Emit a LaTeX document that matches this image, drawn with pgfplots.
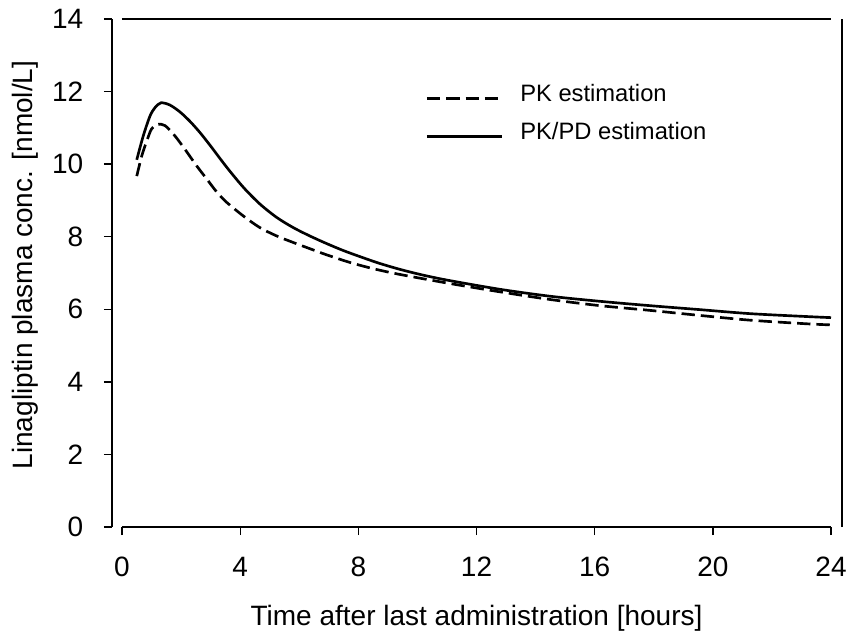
\documentclass[border=0pt]{standalone}
\usepackage{fontspec}
\setmainfont{Liberation Sans}
\usepackage{pgfplots}
\pgfplotsset{compat=1.18}
\begin{document}
\begin{tikzpicture}
\begin{axis}[
 name=ax,
 scale only axis,
 width=539.25pt, height=381pt,
 xmin=-0.3385, xmax=24, ymin=0, ymax=14,
 axis y line*=left, axis x line*=bottom,
 x axis line style={draw=none},
 y axis line style={line width=1pt},
 clip=false,
 xtick={0,4,...,24}, ytick={0,2,...,14},
 tick align=outside, major tick length=6pt,
 tick style={line width=1pt, black},
 minor tick num=0,
 /pgf/number format/assume math mode=true,
 ticklabel style={font=\fontsize{21}{25}\selectfont},
 xticklabel style={yshift=-13pt},
 yticklabel style={xshift=-12pt},
 xlabel={Time after last administration [hours]},
 ylabel={Linagliptin plasma conc. [nmol/L]},
 label style={font=\fontsize{21}{25}\selectfont},
 xlabel style={at={([yshift=-73.5pt]axis description cs:0.507,0)}, anchor=base},
 ylabel style={at={([xshift=-59.25pt]axis description cs:0,0.5157)}, anchor=base, rotate=0},
 legend style={draw=none, fill=none, at={([xshift=232pt,yshift=-50.5pt]axis description cs:0,1)}, anchor=north west,
   font=\fontsize{17.8}{21}\selectfont, row sep=14.5pt,
   nodes={inner sep=2pt, text depth=0.25em, text height=0.75em},
   /tikz/every odd column/.append style={column sep=11pt}},
 legend cell align=left,
 legend image code/.code={\draw[#1] (0pt,0pt) -- (56pt,0pt);},
]
\addplot[black, line width=2pt, smooth, dash pattern=on 10pt off 4.5pt] coordinates {
(0.5,9.67) (0.67,10.23) (0.84,10.64) (1.00,10.97) (1.2,11.10) (1.46,11.06) (1.79,10.78) (2.13,10.41) (2.53,9.95) (2.87,9.59) (3.20,9.24) (3.54,8.95) (4.11,8.57) (4.67,8.25) (5.24,8.02) (5.80,7.84) (6.36,7.67) (6.93,7.50) (7.72,7.29) (8.5,7.12) (9.41,6.96) (11.10,6.71) (12.80,6.48) (14.49,6.27) (16.18,6.10) (17.87,5.97) (19.57,5.83) (21.26,5.70) (23.18,5.60) (24,5.57)
};
\addlegendentry{PK estimation}
\addplot[black, line width=2pt, smooth] coordinates {
(0.5,10.12) (0.72,10.78) (0.95,11.33) (1.12,11.56) (1.32,11.69) (1.62,11.63) (1.96,11.44) (2.30,11.18) (2.64,10.87) (2.98,10.52) (3.54,9.92) (4.11,9.36) (4.67,8.90) (5.24,8.53) (5.80,8.25) (6.36,8.02) (6.93,7.81) (7.49,7.62) (8.06,7.45) (8.7,7.27) (9.41,7.10) (10.2,6.94) (11.10,6.79) (12.80,6.55) (14.49,6.36) (16.18,6.22) (17.87,6.10) (19.57,5.99) (21.26,5.88) (23.18,5.80) (24,5.77)
};
\addlegendentry{PK/PD estimation}
\draw[line width=1pt] (axis cs:0,0) -- (axis cs:24,0);
\draw[line width=1pt] (axis cs:0,14) -- (axis cs:24,14);
\draw[line width=1pt] (axis cs:24.372,0) -- (axis cs:24.372,14);
\end{axis}
\pgfresetboundingbox
\path[use as bounding box] ([xshift=-84pt, yshift=-81.75pt]ax.south west) rectangle ([xshift=12.75pt, yshift=14.25pt]ax.north east);
\end{tikzpicture}
\end{document}
